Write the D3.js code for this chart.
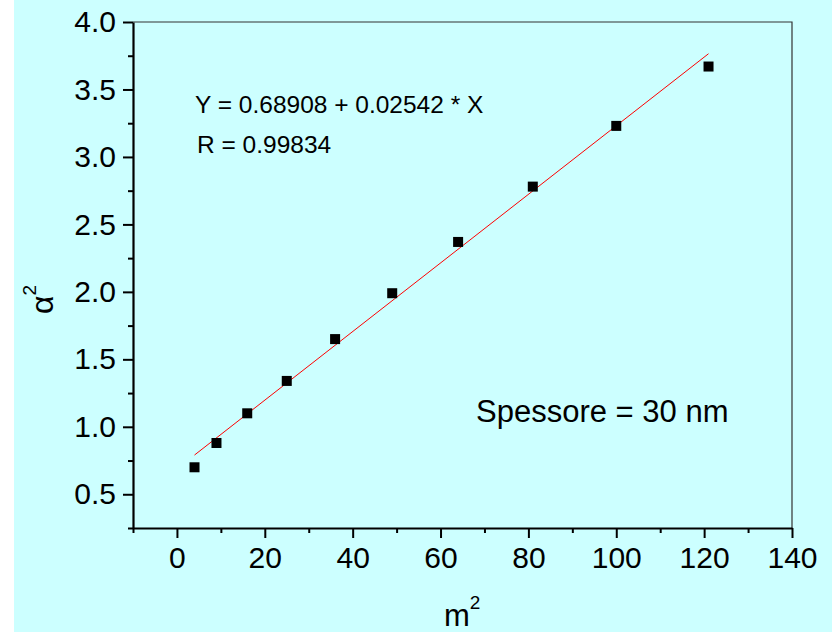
<!DOCTYPE html>
<html>
<head>
<meta charset="utf-8">
<script src="https://cdn.jsdelivr.net/npm/d3@7"></script>
<style>
  body { margin: 0; background: #ffffff; }
  svg text { font-family: "Liberation Sans", Arial, sans-serif; fill: #000; }
</style>
</head>
<body>
<div id="chart"></div>
<script>
// m^2 values and measured alpha^2
let m_sq = [4, 9, 16, 25, 36, 49, 64, 81, 100, 121];
let alpha_sq = [0.70, 0.88, 1.10, 1.34, 1.65, 1.99, 2.37, 2.78, 3.23, 3.67];

// linear fit coefficients, as printed on the chart
let fit_a = 0.68908;
let fit_b = 0.02542;
let fit_r = 0.99834;

let x_ticks = [0, 20, 40, 60, 80, 100, 120, 140];
let x_minor = [-10, 10, 30, 50, 70, 90, 110, 130];
let y_ticks = [0.5, 1.0, 1.5, 2.0, 2.5, 3.0, 3.5, 4.0];
let y_minor = [0.25, 0.75, 1.25, 1.75, 2.25, 2.75, 3.25, 3.75];

let width = 840;
let height = 632;
let margin = { "top": 22, "right": 48, "bottom": 104, "left": 133 };

let svg = d3.select("#chart")
  .append("svg")
    .attr("width", width)
    .attr("height", height);

// cyan page
svg.append("rect")
  .attr("x", 14).attr("y", 0)
  .attr("width", 818).attr("height", height)
  .attr("fill", "#ccffff");

let x = d3.scaleLinear()
  .domain([-10, 140])
  .range([margin.left, width - margin.right]);

let y = d3.scaleLinear()
  .domain([0.25, 4.0])
  .range([height - margin.bottom, margin.top]);

// top + right frame (thin)
svg.append("path")
  .attr("d", "M" + x(-10) + "," + y(4.0) + "H" + x(140) + "V" + y(0.25))
  .attr("fill", "none")
  .attr("stroke", "#333")
  .attr("stroke-width", 1.2);

// minor ticks
svg.append("g")
  .attr("transform", "translate(0," + y(0.25) + ")")
  .call(d3.axisBottom(x).tickValues(x_minor).tickSize(5).tickFormat(""))
  .call(g => g.select(".domain").remove())
  .selectAll("line").attr("stroke-width", 2);

svg.append("g")
  .attr("transform", "translate(" + x(-10) + ",0)")
  .call(d3.axisLeft(y).tickValues(y_minor).tickSize(5).tickFormat(""))
  .call(g => g.select(".domain").remove())
  .selectAll("line").attr("stroke-width", 2);

// major axes
let x_axis = svg.append("g")
  .attr("transform", "translate(0," + y(0.25) + ")")
  .call(d3.axisBottom(x).tickValues(x_ticks).tickSize(10).tickSizeOuter(0).tickPadding(9)
        .tickFormat(d3.format("d")));

let y_axis = svg.append("g")
  .attr("transform", "translate(" + x(-10) + ",0)")
  .call(d3.axisLeft(y).tickValues(y_ticks).tickSize(10).tickSizeOuter(0).tickPadding(7)
        .tickFormat(d3.format(".1f")));

[x_axis, y_axis].forEach(function(g) {
  g.select(".domain").attr("stroke-width", 2.2);
  g.selectAll(".tick line").attr("stroke-width", 2);
  g.selectAll(".tick text")
    .style("font-size", "30px")
    .style("font-family", "'Liberation Sans', Arial, sans-serif");
});

// fit line
svg.append("line")
  .attr("x1", x(d3.min(m_sq))).attr("y1", y(fit_a + fit_b * d3.min(m_sq)))
  .attr("x2", x(d3.max(m_sq))).attr("y2", y(fit_a + fit_b * d3.max(m_sq)))
  .attr("stroke", "#ff0000")
  .attr("stroke-width", 1);

// data squares
let sq = 10;
svg.append("g")
  .selectAll("rect")
  .data(m_sq)
  .join("rect")
    .attr("x", (d) => x(d) - sq / 2)
    .attr("y", (d, i) => y(alpha_sq[i]) - sq / 2)
    .attr("width", sq)
    .attr("height", sq)
    .attr("fill", "#000");

// annotations
svg.append("text")
  .attr("x", 195).attr("y", 113)
  .style("font-size", "24.5px")
  .text("Y = " + fit_a.toFixed(5) + " + " + fit_b.toFixed(5) + " * X");

svg.append("text")
  .attr("x", 197).attr("y", 153)
  .style("font-size", "24.5px")
  .text("R = " + fit_r.toFixed(5));

svg.append("text")
  .attr("x", 476).attr("y", 422)
  .style("font-size", "31px")
  .text("Spessore = 30 nm");

// axis titles
let xt = svg.append("text")
  .attr("x", 444).attr("y", 626)
  .style("font-size", "31px");
xt.append("tspan").text("m");
xt.append("tspan").attr("dy", -17).style("font-size", "19px").text("2");

let yt = svg.append("text")
  .attr("transform", "translate(53,314) rotate(-90)")
  .style("font-size", "32px");
yt.append("tspan").text("\u03b1");
yt.append("tspan").attr("dy", -17).style("font-size", "19px").text("2");
</script>
</body>
</html>
